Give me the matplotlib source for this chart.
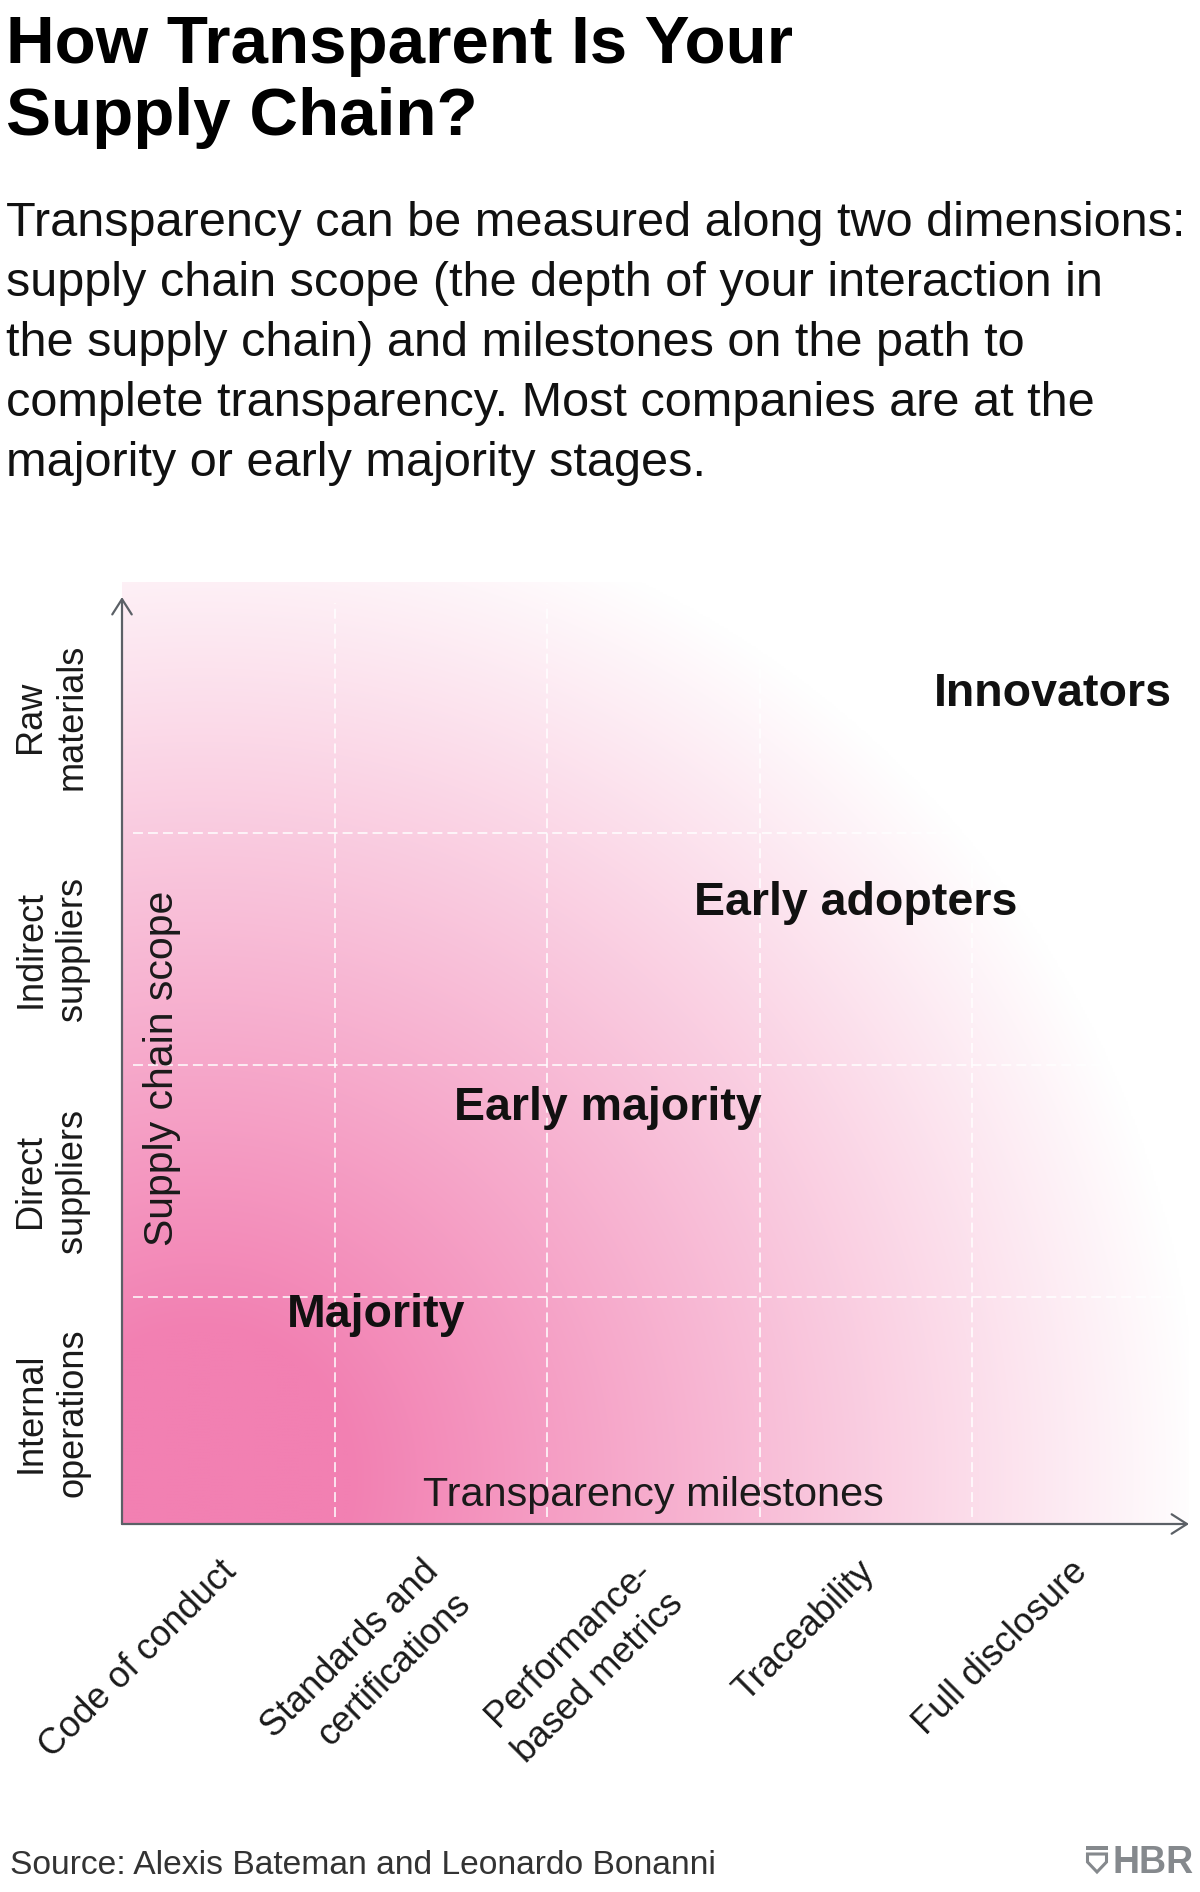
import numpy as np
import matplotlib
matplotlib.use("Agg")
import matplotlib.pyplot as plt
from matplotlib import font_manager as fm
from matplotlib.patches import Polygon, Rectangle

# ---------------- data ----------------
title_lines = ["How Transparent Is Your", "Supply Chain?"]
subtitle_lines = [
    "Transparency can be measured along two dimensions:",
    "supply chain scope (the depth of your interaction in",
    "the supply chain) and milestones on the path to",
    "complete transparency. Most companies are at the",
    "majority or early majority stages.",
]
milestones = ["Code of conduct", "Standards and\ncertifications",
              "Performance-\nbased metrics", "Traceability", "Full disclosure"]
scopes = ["Internal\noperations", "Direct\nsuppliers",
          "Indirect\nsuppliers", "Raw\nmaterials"]
stages = ["Majority", "Early majority", "Early adopters", "Innovators"]
x_label = "Transparency milestones"
y_label = "Supply chain scope"
source = "Source: Alexis Bateman and Leonardo Bonanni"

# ---------------- layout ----------------
stage_x = [0.776, 1.56, 2.69, 4.94]
stage_y = [0.869, 1.761, 2.645, 3.546]
stage_ha = ["left", "left", "left", "right"]


def has_font(name):
    try:
        fm.findfont(fm.FontProperties(family=name), fallback_to_default=False)
        return True
    except Exception:
        return False


NARROW = has_font("Liberation Sans Narrow")
narrow = "Liberation Sans Narrow" if NARROW else "Liberation Sans"
ns = 1.0 if NARROW else 0.84
REG = "Liberation Sans"

W, H = 1200, 1892
fig = plt.figure(figsize=(W / 100, H / 100), dpi=100)
fig.patch.set_facecolor("white")

ax_l, ax_r, ax_t, ax_b = 122, 1189, 582, 1524
ax = fig.add_axes([ax_l / W, 1 - ax_b / H, (ax_r - ax_l) / W, (ax_b - ax_t) / H])
xmax = 5.02
ylo, yhi = 0.02, 4.08
ax.set_xlim(0, xmax)
ax.set_ylim(ylo, yhi)
ax.set_facecolor("white")
for sp in ax.spines.values():
    sp.set_visible(False)

# px per data unit
sx = (ax_r - ax_l) / xmax
sy = (ax_b - ax_t) / (yhi - ylo)

# radial pink gradient background
gx = np.linspace(0, xmax, 600)
gy = np.linspace(ylo, yhi, 520)
GX, GY = np.meshgrid(gx, gy)
cx, cy, R = 0.37, 0.21, 1000.0
d = np.hypot((GX - cx) * sx, (GY - cy) * sy) / R
s = np.clip((d - 0.15) / 0.85, 0, 1)
pink = np.array([242, 128, 178]) / 255.0
img = pink[None, None, :] * (1 - s[..., None]) + s[..., None]
ax.imshow(img, extent=(0, xmax, ylo, yhi), origin="lower", aspect="auto",
          interpolation="bilinear", zorder=0)

# dashed white grid
dash = (0, (6.5, 3.3))
for xv in range(1, len(milestones)):
    ax.plot([xv, xv], [0.05, 3.99], color="white", lw=1.1, ls=dash, zorder=1)
for yv in range(1, len(scopes)):
    ax.plot([0.05, xmax], [yv, yv], color="white", lw=1.1, ls=dash, zorder=1)

# axis arrows
axcol = "#5b6066"
ap = dict(arrowstyle="->,head_length=1.1,head_width=0.7", color=axcol, lw=1.6,
          mutation_scale=10, shrinkA=0, shrinkB=0)
ax.annotate("", xy=(0, 0.984), xytext=(0, 0), xycoords="axes fraction",
            arrowprops=ap, annotation_clip=False)
ax.annotate("", xy=(1, 0), xytext=(0, 0), xycoords="axes fraction",
            arrowprops=ap, annotation_clip=False)

# x category labels (rotated, right aligned, first line anchored)
ax.set_xticks([])
tick_dx_px, tick_dy_px, extra_line_dx = -9, 30, -11
for i, lab in enumerate(milestones):
    nlines = lab.count("\n") + 1
    dx = tick_dx_px + extra_line_dx * (nlines - 1)
    ax.text(i + 0.5 + dx / sx, ylo - tick_dy_px / sy, lab,
            fontsize=31 * ns, family=narrow, color="#1a1a1a",
            rotation=45, ha="right", va="top", rotation_mode="anchor",
            multialignment="right", linespacing=1.4, clip_on=False)

# y category labels
ax.set_yticks(np.arange(len(scopes)) + 0.5)
ax.set_yticklabels(scopes, fontsize=31 * ns, family=narrow, color="#1a1a1a",
                   rotation=90, ha="right", va="center", multialignment="center",
                   linespacing=1.25)
ax.tick_params(axis="y", length=0, pad=23)

# axis titles inside the plot
ax.text(0.188, 1.986, y_label, rotation=90, ha="center", va="center",
        fontsize=29.5, family=REG, color="#1a1a1a", zorder=3)
ax.text(len(milestones) / 2, 0.098, x_label, ha="center", va="baseline",
        fontsize=35.5 * ns, family=narrow, color="#1a1a1a", zorder=3)

# stage labels
for lab, x, y, ha in zip(stages, stage_x, stage_y, stage_ha):
    ax.text(x, y, lab, ha=ha, va="baseline", fontsize=33.5, family=REG,
            weight="bold", color="#111111", zorder=3)

# title and subtitle
for txt, by in zip(title_lines, [63, 135]):
    fig.text(6 / W, 1 - by / H, txt, fontsize=48.5, family=REG, weight="bold",
             color="#000000", va="baseline", ha="left")
for txt, by in zip(subtitle_lines, [236, 296, 356, 416, 476]):
    fig.text(6 / W, 1 - by / H, txt, fontsize=35, family=REG,
             color="#111111", va="baseline", ha="left")

# footer
fig.text(10 / W, 1 - 1874 / H, source, fontsize=24.2, family=REG,
         color="#333333", va="baseline", ha="left")
logo_col = "#85898d"
fig.text(1194 / W, 1 - 1873 / H, "HBR", fontsize=27, family=REG, weight="bold",
         color=logo_col, va="baseline", ha="right")


def fpt(px, py):
    return (px / W, 1 - py / H)


fig.add_artist(Rectangle(fpt(1086, 1850), 22 / W, 4 / H, transform=fig.transFigure,
                         facecolor=logo_col, edgecolor="none"))
shield = [fpt(1087.5, 1854), fpt(1106.5, 1854), fpt(1106.5, 1862),
          fpt(1097, 1872), fpt(1087.5, 1862)]
fig.add_artist(Polygon(shield, closed=True, transform=fig.transFigure,
                       facecolor="none", edgecolor=logo_col, lw=2.2))

fig.savefig("out.png", dpi=100, facecolor="white")
